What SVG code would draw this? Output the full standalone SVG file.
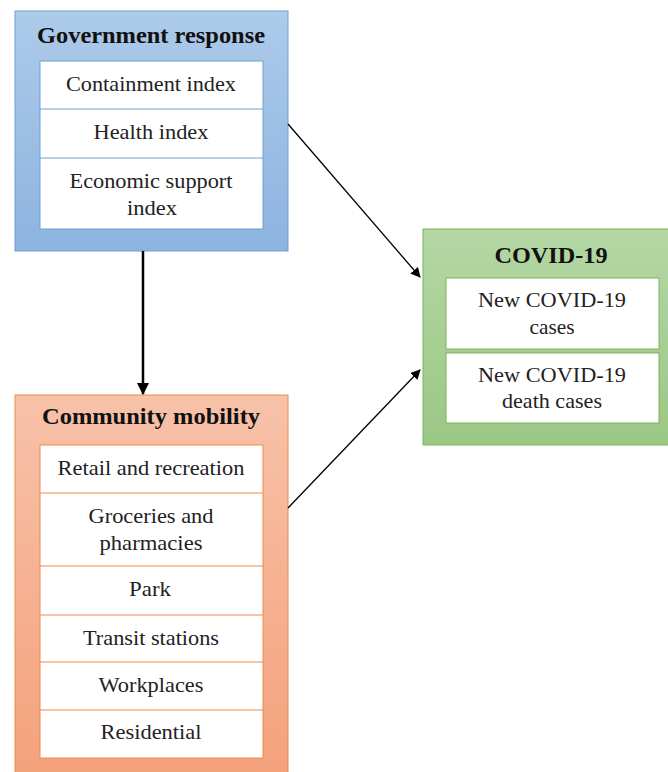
<svg xmlns="http://www.w3.org/2000/svg" width="668" height="772" viewBox="0 0 668 772">
<style>
.t{font-family:"Liberation Serif","Times New Roman",serif;font-weight:bold;font-size:23px;fill:#111;text-anchor:middle}
.i{font-family:"Liberation Serif","Times New Roman",serif;font-size:21px;fill:#222;text-anchor:middle}
.cell{fill:#fff}
</style>
<defs>
<linearGradient id="gb" x1="0" y1="0" x2="0" y2="1"><stop offset="0" stop-color="#adcbea"/><stop offset="1" stop-color="#8db3e0"/></linearGradient>
<linearGradient id="go" x1="0" y1="0" x2="0" y2="1"><stop offset="0" stop-color="#f7c2a9"/><stop offset="1" stop-color="#f4a17b"/></linearGradient>
<linearGradient id="gg" x1="0" y1="0" x2="0" y2="1"><stop offset="0" stop-color="#b4d7a5"/><stop offset="1" stop-color="#9bc784"/></linearGradient>
<marker id="ah" markerWidth="10" markerHeight="10" refX="9" refY="5" orient="auto" markerUnits="userSpaceOnUse"><path d="M0,0 L10,5 L0,10 z" fill="#000"/></marker>
<marker id="ah2" markerWidth="12" markerHeight="12" refX="11" refY="6" orient="auto" markerUnits="userSpaceOnUse"><path d="M0,0 L12,6 L0,12 z" fill="#000"/></marker>
</defs>
<g id="gov">
<rect x="15" y="11" width="273" height="240" fill="url(#gb)" stroke="#6c9fd6" stroke-width="1"/>
<text class="t" x="151" y="43" textLength="228" lengthAdjust="spacingAndGlyphs">Government response</text>
<g stroke="#6c9fd6" stroke-width="1">
<rect class="cell" x="40" y="61" width="223" height="168"/>
<line x1="40" y1="109" x2="263" y2="109"/>
<line x1="40" y1="158" x2="263" y2="158"/>
</g>
<text class="i" x="151" y="91" textLength="170" lengthAdjust="spacingAndGlyphs">Containment index</text>
<text class="i" x="151" y="139" textLength="115" lengthAdjust="spacingAndGlyphs">Health index</text>
<text class="i" x="151" y="188" textLength="163" lengthAdjust="spacingAndGlyphs">Economic support</text>
<text class="i" x="152" y="215" textLength="50" lengthAdjust="spacingAndGlyphs">index</text>
</g>
<g id="mobility">
<rect x="15" y="395" width="273" height="385" fill="url(#go)" stroke="#ed8a4e" stroke-width="1"/>
<text class="t" x="151" y="424" textLength="218" lengthAdjust="spacingAndGlyphs">Community mobility</text>
<g stroke="#ed8a4e" stroke-width="1">
<rect class="cell" x="40" y="445" width="223" height="313"/>
<line x1="40" y1="493" x2="263" y2="493"/>
<line x1="40" y1="566" x2="263" y2="566"/>
<line x1="40" y1="615" x2="263" y2="615"/>
<line x1="40" y1="662" x2="263" y2="662"/>
<line x1="40" y1="710" x2="263" y2="710"/>
</g>
<text class="i" x="151" y="475" textLength="187" lengthAdjust="spacingAndGlyphs">Retail and recreation</text>
<text class="i" x="151" y="523" textLength="125" lengthAdjust="spacingAndGlyphs">Groceries and</text>
<text class="i" x="151" y="550" textLength="103" lengthAdjust="spacingAndGlyphs">pharmacies</text>
<text class="i" x="150" y="596" textLength="42" lengthAdjust="spacingAndGlyphs">Park</text>
<text class="i" x="151" y="645" textLength="136" lengthAdjust="spacingAndGlyphs">Transit stations</text>
<text class="i" x="151" y="692" textLength="105" lengthAdjust="spacingAndGlyphs">Workplaces</text>
<text class="i" x="151" y="739" textLength="101" lengthAdjust="spacingAndGlyphs">Residential</text>
</g>
<g id="covid">
<rect x="423" y="229" width="250" height="216" fill="url(#gg)" stroke="#7cb45a" stroke-width="1"/>
<text class="t" x="551" y="263" textLength="113" lengthAdjust="spacingAndGlyphs">COVID-19</text>
<g stroke="#7cb45a" stroke-width="1">
<rect class="cell" x="446" y="278" width="213" height="71"/>
<rect class="cell" x="446" y="353" width="213" height="70"/>
</g>
<text class="i" x="552" y="307" textLength="148" lengthAdjust="spacingAndGlyphs">New COVID-19</text>
<text class="i" x="552" y="334" textLength="45" lengthAdjust="spacingAndGlyphs">cases</text>
<text class="i" x="552" y="382" textLength="148" lengthAdjust="spacingAndGlyphs">New COVID-19</text>
<text class="i" x="552" y="408" textLength="100" lengthAdjust="spacingAndGlyphs">death cases</text>
</g>
<g id="connectors" stroke="#000" fill="none">
<line x1="288" y1="124" x2="420" y2="277" stroke-width="1.3" marker-end="url(#ah)"/>
<line x1="288" y1="508" x2="420" y2="370" stroke-width="1.3" marker-end="url(#ah)"/>
<line x1="143" y1="251" x2="143" y2="394" stroke-width="2.5" marker-end="url(#ah2)"/>
</g>
</svg>
